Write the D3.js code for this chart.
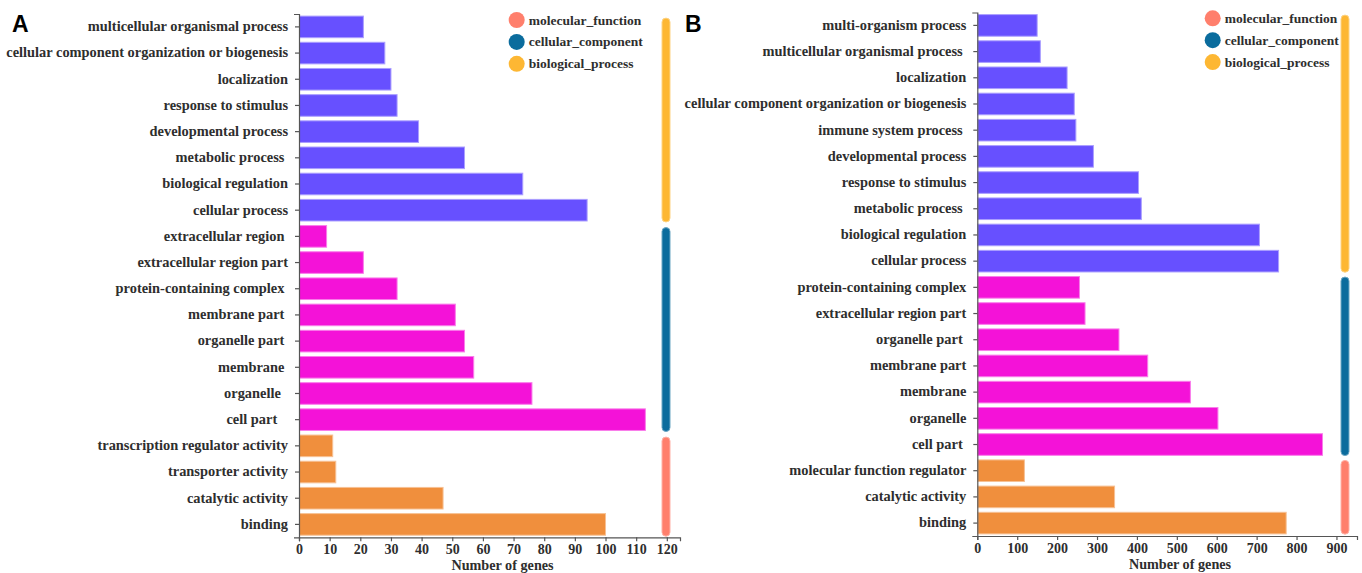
<!DOCTYPE html>
<html>
<head>
<meta charset="utf-8">
<script src="https://cdn.jsdelivr.net/npm/d3@7/dist/d3.min.js"></script>
<style>
  html, body { margin: 0; padding: 0; background: #fff; }
  svg { display: block; }
  .lbl { font-family: "Liberation Serif", "Times New Roman", serif; font-weight: bold; }
  .axis text { white-space: pre; }
</style>
</head>
<body>
<svg id="chart" width="1362" height="573"></svg>
<script>
// ---------------- DATA ----------------
const groupNames = ["molecular_function", "cellular_component", "biological_process"];

// Panel A
const bpLabelsA = ["multicellular organismal process", "cellular component organization or biogenesis", "localization",
  "response to stimulus", "developmental process", "metabolic process ", "biological regulation", "cellular process"];
const bpValuesA = [21, 28, 30, 32, 39, 54, 73, 94];
const ccLabelsA = ["extracellular region ", "extracellular region part", "protein-containing complex ", "membrane part ",
  "organelle part ", "membrane ", "organelle  ", "cell part   "];
const ccValuesA = [9, 21, 32, 51, 54, 57, 76, 113];
const mfLabelsA = ["transcription regulator activity", "transporter activity", "catalytic activity", "binding"];
const mfValuesA = [11, 12, 47, 100];
const xTicksA = [0, 10, 20, 30, 40, 50, 60, 70, 80, 90, 100, 110, 120];

// Panel B
const bpLabelsB = ["multi-organism process", "multicellular organismal process ", "localization",
  "cellular component organization or biogenesis", "immune system process ", "developmental process",
  "response to stimulus", "metabolic process ", "biological regulation", "cellular process"];
const bpValuesB = [150, 158, 225, 243, 247, 291, 404, 411, 707, 755];
const ccLabelsB = ["protein-containing complex", "extracellular region part", "organelle part ", "membrane part",
  "membrane", "organelle", "cell part "];
const ccValuesB = [256, 270, 355, 427, 534, 603, 865];
const mfLabelsB = ["molecular function regulator", "catalytic activity", "binding"];
const mfValuesB = [118, 344, 774];
const xTicksB = [0, 100, 200, 300, 400, 500, 600, 700, 800, 900];

// ---------------- STYLE ----------------
const barColor = { biological_process: "#6750FF", cellular_component: "#F412D8", molecular_function: "#F08F3D" };
const groupColor = { biological_process: "#FDB733", cellular_component: "#0B6C9D", molecular_function: "#FF7F6C" };
const axisColor = "#555";
const textColor = "#2e2e2e";

const svg = d3.select("#chart");

function buildRows(bpL, bpV, ccL, ccV, mfL, mfV) {
  const rows = [];
  bpL.forEach((l, i) => rows.push({ label: l, value: bpV[i], group: "biological_process" }));
  ccL.forEach((l, i) => rows.push({ label: l, value: ccV[i], group: "cellular_component" }));
  mfL.forEach((l, i) => rows.push({ label: l, value: mfV[i], group: "molecular_function" }));
  return rows;
}

function drawPanel(cfg) {
  const rows = cfg.rows;
  const g = svg.append("g");
  const maxV = d3.max(rows, d => d.value);
  const x = d3.scaleLinear().domain([0, maxV * 1.1]).range(cfg.xRange);
  const y = d3.scaleBand().domain(d3.range(rows.length)).range(cfg.yRange)
    .paddingInner(0.175).paddingOuter(0.08);

  // bars
  g.selectAll("rect.bar").data(rows).enter().append("rect")
    .attr("class", "bar")
    .attr("x", x(0) + 0.5)
    .attr("y", (d, i) => y(i))
    .attr("width", d => Math.max(0, x(d.value) - x(0) - 0.5))
    .attr("height", y.bandwidth())
    .attr("fill", d => barColor[d.group])
    .attr("stroke", d => d3.interpolateRgb(barColor[d.group], "#ffffff")(0.45))
    .attr("stroke-width", 1);

  // y axis
  const yAxis = d3.axisLeft(y).tickFormat(i => rows[i].label).tickSize(4).tickSizeOuter(5).tickPadding(7);
  const ya = g.append("g").attr("class", "axis").attr("transform", `translate(${x(0)},0)`).call(yAxis);
  ya.selectAll("path, line").attr("stroke", axisColor).attr("stroke-width", 1.2);
  ya.selectAll("text").attr("class", "lbl").attr("font-size", 14.4).attr("fill", textColor)
    .attr("dy", "0.30em")
    .style("white-space", "pre");

  // x axis
  const xAxis = d3.axisBottom(x).tickValues(cfg.xTicks).tickSize(4).tickSizeOuter(4).tickPadding(3);
  const xa = g.append("g").attr("class", "axis").attr("transform", `translate(0,${cfg.yRange[1]})`).call(xAxis);
  xa.selectAll("path, line").attr("stroke", axisColor).attr("stroke-width", 1.2);
  xa.selectAll("text").attr("class", "lbl").attr("font-size", 14).attr("fill", textColor);

  // axis title
  g.append("text").attr("class", "lbl")
    .attr("x", cfg.titleX).attr("y", cfg.yRange[1] + 33)
    .attr("text-anchor", "middle").attr("font-size", 14.2).attr("fill", textColor)
    .text("Number of genes");

  // group side bars
  const groupsOrder = ["biological_process", "cellular_component", "molecular_function"];
  const barX = cfg.xRange[1] - cfg.sideOffset;
  groupsOrder.forEach(gr => {
    const idx = rows.map((r, i) => r.group === gr ? i : -1).filter(i => i >= 0);
    const top = y(idx[0]) + cfg.sideInset;
    const bottom = y(idx[idx.length - 1]) + y.bandwidth() + cfg.sideInset * 0.5;
    g.append("rect")
      .attr("x", barX - 4).attr("y", top)
      .attr("width", 8).attr("height", bottom - top)
      .attr("rx", 4).attr("ry", 4)
      .attr("fill", groupColor[gr])
      .attr("stroke", d3.interpolateRgb(groupColor[gr], "#ffffff")(0.4))
      .attr("stroke-width", 1);
  });

  // legend
  const lg = g.append("g").attr("transform", `translate(${cfg.legend[0]},${cfg.legend[1]})`);
  groupNames.forEach((n, i) => {
    const row = lg.append("g").attr("transform", `translate(0,${i * 21.9})`);
    row.append("circle").attr("cx", 0).attr("cy", 0).attr("r", 8).attr("fill", groupColor[n]);
    row.append("text").attr("class", "lbl").attr("x", 12).attr("y", 4.5)
      .attr("font-size", 13.5).attr("fill", textColor).text(n);
  });

  // panel letter
  g.append("text").attr("x", cfg.letter[0]).attr("y", cfg.letter[1])
    .attr("font-family", "Liberation Sans, Arial, sans-serif").attr("font-weight", "bold")
    .attr("font-size", 23).attr("fill", "#000").text(cfg.letterText);
}

drawPanel({
  rows: buildRows(bpLabelsA, bpValuesA, ccLabelsA, ccValuesA, mfLabelsA, mfValuesA),
  xRange: [299, 680], yRange: [14, 537.3], xTicks: xTicksA,
  titleX: 502.5, sideOffset: 14, sideInset: 2,
  legend: [516.7, 20], letter: [12, 32], letterText: "A"
});

drawPanel({
  rows: buildRows(bpLabelsB, bpValuesB, ccLabelsB, ccValuesB, mfLabelsB, mfValuesB),
  xRange: [977.3, 1357], yRange: [12.5, 536], xTicks: xTicksB,
  titleX: 1180, sideOffset: 12, sideInset: 0.5,
  legend: [1212.7, 18.3], letter: [685, 32], letterText: "B"
});
</script>
</body>
</html>
